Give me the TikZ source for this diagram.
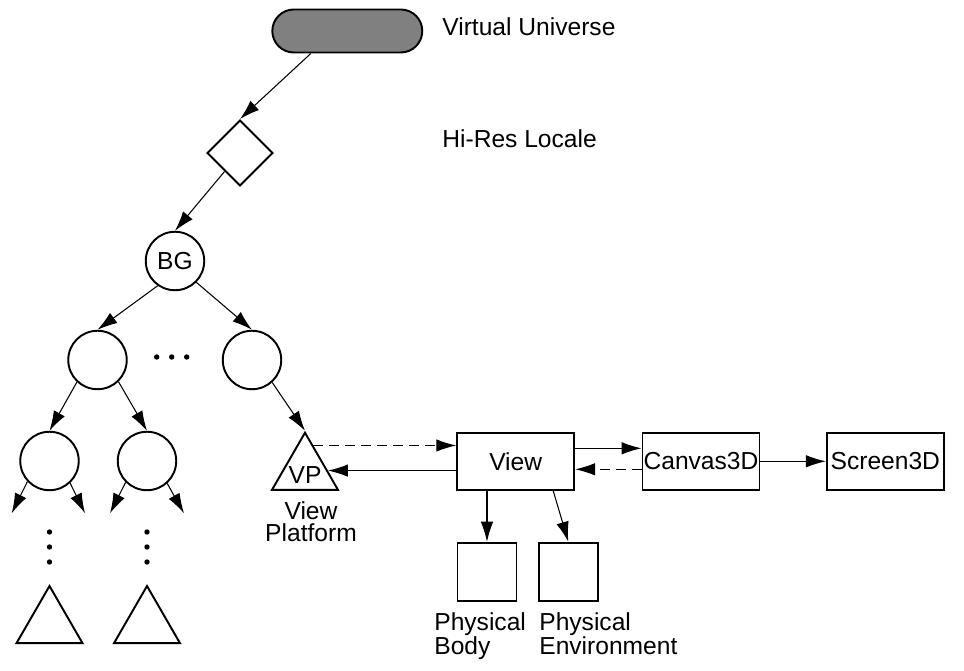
\documentclass[tikz,border=0pt]{standalone}
\usepackage{fontspec}
\setmainfont{Liberation Sans}
\usetikzlibrary{arrows.meta,shapes.geometric,calc}
\definecolor{univgray}{RGB}{128,128,128}

\begin{document}
\begin{tikzpicture}[x=0.02cm,y=-0.02cm,
    every node/.style={font=\fontsize{14pt}{12.5pt}\selectfont},
    link/.style={line width=0.6pt,-{Latex[length=0.4cm,width=0.25cm]}},
    dlink/.style={link,dash pattern=on 0.2cm off 0.12cm},
    grp/.style={circle,draw,line width=1.1pt,minimum size=1.17cm,inner sep=0pt},
    leaf/.style={regular polygon,regular polygon sides=3,draw,line width=1.1pt,minimum size=1.524cm,inner sep=0pt},
    box/.style={rectangle,draw,line width=1.1pt,minimum width=2.34cm,minimum height=1.14cm,inner sep=0pt},
    phys/.style={rectangle,draw,line width=1.1pt,minimum width=1.18cm,minimum height=1.16cm,inner sep=0pt},
    lbl/.style={inner sep=0pt}]
            \useasboundingbox (0,0) rectangle (964,671);
            % Universe and locale
            \node[fill=univgray,draw,line width=1.1pt,rounded corners=0.43cm,minimum width=3cm,minimum height=0.86cm] (vu) at (347.3,31) {};
            \node[lbl,anchor=base west] (vulabel) at (442,36) {Virtual Universe};
            \node[diamond,draw,line width=1.1pt,minimum width=1.32cm,minimum height=1.32cm,inner sep=0pt,aspect=1] (hires) at (240,153) {};
            \node[lbl,anchor=base west] (hireslabel) at (442,148) {Hi-Res Locale};
            % Branch groups
            \node[grp] (bg) at (175,261) {BG};
            \node[grp] (grpa) at (97.5,360) {};
            \node[grp] (grpb) at (252,360) {};
            \node[grp] (grpaa) at (49.5,461) {};
            \node[grp] (grpab) at (147,461) {};
            % Leaves
            \node[leaf] (leafa) at (49.5,624.1) {};
            \node[leaf] (leafb) at (147,624.1) {};
            \node[leaf] (vp) at (305,470.8) {};
            \node[lbl] (vptext) at (305,475) {VP};
            \node[lbl,align=center,anchor=north] (vplabel) at (311,501) {View\\Platform};
            % View side
            \node[box] (view) at (515.7,461.3) {View};
            \node[box] (canvas) at (701,461.3) {Canvas3D};
            \node[box] (screen) at (885.3,461.3) {Screen3D};
            \node[phys] (body) at (487,571.7) {};
            \node[phys] (env) at (568.3,571.7) {};
            \node[lbl,align=left,anchor=north west] (bodylabel) at (434,612) {Physical\\Body};
            \node[lbl,align=left,anchor=north west] (envlabel) at (539,612) {Physical\\Environment};
            % Dots
            \foreach \x in {156.7,171.7,186.7}
                \fill (\x,357) circle (0.054cm);
            \foreach \x in {49.5,147}
                \foreach \y in {532,547,562}
                    \fill (\x,\y) circle (0.054cm);
            % Scene graph arrows
            \draw[link] ([xshift=0.79cm]vu.south west) -- (hires.north);
            \draw[link] (hires) -- (bg.north);
            \draw[link] (bg.235) -- (grpa.north);
            \draw[link] (bg.315) -- (grpb.north);
            \draw[link] (grpa.227) -- (grpaa.north);
            \draw[link] (grpa.314) -- (grpab.north);
            \draw[link] (grpb.312) -- (vp.corner 1);
            % Open ends
            \coordinate (aal) at (11.7,513.3);
            \coordinate (aar) at (85,513.3);
            \coordinate (abl) at (110,513.3);
            \coordinate (abr) at (184,513.3);
            \draw[link] (grpaa.223) -- (aal);
            \draw[link] (grpaa.313) -- (aar);
            \draw[link] (grpab.225) -- (abl);
            \draw[link] (grpab.312) -- (abr);
            % View links
            \coordinate (vpin) at ($(vp.corner 1)!0.245!(vp.corner 3)$);
            \coordinate (vpout) at ($(vp.corner 1)!0.663!(vp.corner 3)$);
            \draw[dlink] (vpin) -- (vpin -| view.west);
            \draw[link] (vpout -| view.west) -- (vpout);
            \draw[link] ([yshift=0.26cm]view.east) -- ([yshift=0.26cm]canvas.west);
            \draw[dlink] ([yshift=-0.16cm]canvas.west) -- ([yshift=-0.16cm]view.east);
            \draw[link] (canvas) -- (screen);
            \draw[link] (view.south -| body.north) -- (body.north);
            \draw[link] ([xshift=0.75cm]view.south) -- (env.north);
        \end{tikzpicture}
\end{document}
